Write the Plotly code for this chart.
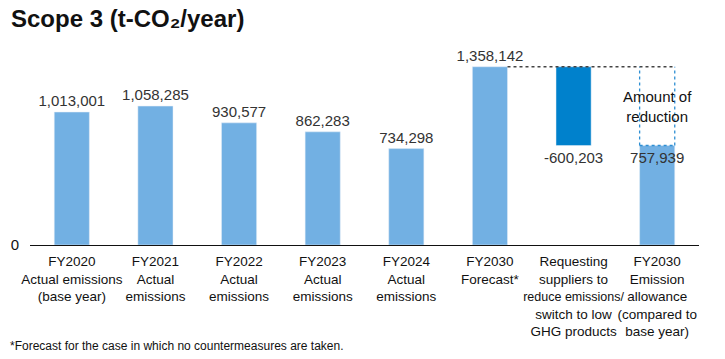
import plotly.graph_objects as go

categories = [
    "FY2020<br>Actual emissions<br>(base year)",
    "FY2021<br>Actual<br>emissions",
    "FY2022<br>Actual<br>emissions",
    "FY2023<br>Actual<br>emissions",
    "FY2024<br>Actual<br>emissions",
    "FY2030<br>Forecast*",
    "Requesting<br>suppliers to<br><span style=\"font-size:12.5px\">reduce emissions/</span><br>switch to low<br>GHG products",
    "FY2030<br>Emission<br>allowance<br>(compared to<br>base year)",
]
actual_values = [1013001, 1058285, 930577, 862283, 734298, 1358142]
reduction = -600203
allowance = 757939

FONT = "Liberation Sans, Arial, sans-serif"
LIGHT = "#72B0E3"
DARK = "#0081CC"
TXT = "#333333"
W = 0.42
VAL = dict(family=FONT, size=15, color=TXT)

xs = list(range(len(categories)))
fig = go.Figure()

fig.add_trace(go.Bar(
    x=xs[:6], y=actual_values, width=W, marker_color=LIGHT,
    text=[f"{v:,}" for v in actual_values], textposition="outside",
    textfont=VAL, constraintext="none", cliponaxis=False, textangle=0,
    hoverinfo="skip",
))
fig.add_trace(go.Bar(
    x=[xs[6]], y=[reduction], base=[actual_values[-1]], width=W, marker_color=DARK,
    text=[f"{reduction:,}"], textposition="outside",
    textfont=VAL, constraintext="none", cliponaxis=False, textangle=0,
    hoverinfo="skip",
))
fig.add_trace(go.Bar(
    x=[xs[7]], y=[allowance], width=W, marker_color=LIGHT,
    text=[f"{allowance:,}"], textposition="inside", insidetextanchor="end",
    textfont=VAL, constraintext="none", textangle=0,
    hoverinfo="skip",
))

forecast = actual_values[-1]
# gray dotted connector at forecast level
fig.add_shape(type="line", xref="x", yref="y",
              x0=xs[5] + W / 2, x1=xs[7] + W / 2, y0=forecast, y1=forecast,
              line=dict(color="#444444", width=1.3, dash="dot"))
# blue dotted box for amount of reduction
for xv in (xs[7] - W / 2, xs[7] + W / 2):
    fig.add_shape(type="line", xref="x", yref="y",
                  x0=xv, x1=xv, y0=allowance, y1=forecast,
                  line=dict(color="#2E8FD3", width=1.3, dash="dot"))
fig.add_shape(type="line", xref="x", yref="y",
              x0=xs[7] - W / 2, x1=xs[7] + W / 2, y0=allowance, y1=allowance,
              line=dict(color="#2E8FD3", width=1.3, dash="dot"))

fig.add_annotation(x=xs[7], y=(allowance + forecast) / 2, xref="x", yref="y",
                   text="Amount of<br>reduction", showarrow=False,
                   font=dict(family=FONT, size=15, color="#111111"))

fig.add_annotation(x=0, y=1, xref="paper", yref="paper", xshift=-21, yshift=17,
                   xanchor="left", yanchor="middle",
                   text="<b>Scope 3 (t-CO₂/year)</b>", showarrow=False,
                   font=dict(family=FONT, size=24, color="#111111"))
fig.add_annotation(x=0, y=0, xref="paper", yref="paper", xshift=-22, yshift=-101,
                   xanchor="left", yanchor="middle",
                   text="*Forecast for the case in which no countermeasures are taken.",
                   showarrow=False,
                   font=dict(family=FONT, size=12, color="#111111"))

# page body adds an 8px offset; size figure to fill the remaining window
fig.update_layout(
    width=717, height=351,
    margin=dict(l=22, r=26, t=27, b=114, autoexpand=False),
    plot_bgcolor="white", paper_bgcolor="white",
    showlegend=False,
    font=dict(family=FONT, size=13.5, color="#111111"),
)
fig.update_xaxes(
    tickvals=xs, ticktext=categories, range=[-0.5, 7.5], tickangle=0,
    automargin=False, ticklabelstandoff=4,
    showline=True, linecolor="#111111", linewidth=1, ticks="",
    showgrid=False, tickfont=dict(family=FONT, size=13.5, color="#111111"),
)
fig.update_yaxes(
    range=[0, 1600000], tickvals=[0], ticktext=["0"], showgrid=False,
    zeroline=False, showline=False, ticks="", automargin=False,
    ticklabelstandoff=10,
    tickfont=dict(family=FONT, size=15, color="#111111"),
)

fig.write_html("out.html")
